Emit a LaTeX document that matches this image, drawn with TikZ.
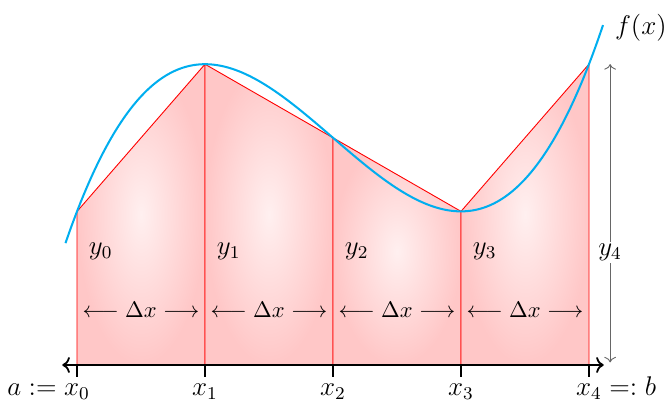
\documentclass[tikz,border=0pt]{standalone}
\usepackage{amsmath,amssymb}
\usepackage{xcolor}
\usepackage{tikz}
\usetikzlibrary{arrows.meta,positioning,calc}

\definecolor{curvecyan}{RGB}{0,174,239}

\begin{document}
\begin{tikzpicture}[
    declare function={f(\x)=0.0719*(\x-4)^3-0.8625*(\x-4)+3.55;},
    trap/.style={draw=red, inner color=red!6, outer color=red!22},
    axis/.style={<->, thick},
    tick/.style={thick},
    xlab/.style={anchor=base, inner sep=0pt, font=\large},
    curve/.style={curvecyan, line width=0.9pt},
    ylab/.style={anchor=base west, inner sep=0pt, font=\large},
    dxlab/.style={inner sep=0pt},
    height/.style={<->, black!60},
]
    \useasboundingbox (-1.203,-0.578) rectangle (9.203,5.703);

    % grid points on the axis and on the curve
    \coordinate (b0) at (0,0);
    \coordinate (b1) at (2,0);
    \coordinate (b2) at (4,0);
    \coordinate (b3) at (6,0);
    \coordinate (b4) at (8,0);
    \coordinate (t0) at (0,{f(0)});
    \coordinate (t1) at (2,{f(2)});
    \coordinate (t2) at (4,{f(4)});
    \coordinate (t3) at (6,{f(6)});
    \coordinate (t4) at (8,{f(8)});

    % trapezoids
    \draw[trap] (b0) -- (t0) -- (t1) -- (b1) -- cycle;
    \draw[trap] (b1) -- (t1) -- (t2) -- (b2) -- cycle;
    \draw[trap] (b2) -- (t2) -- (t3) -- (b3) -- cycle;
    \draw[trap] (b3) -- (t3) -- (t4) -- (b4) -- cycle;

    % the function
    \draw[curve] plot[domain=-0.18:8.22, samples=100, smooth] (\x,{f(\x)});
    \node[ylab] (fx) at (8.4,5.16) {$f(x)$};

    % axis and ticks
    \coordinate (left) at (-0.23,0);
    \coordinate (right) at (8.23,0);
    \draw[axis] (left) -- (right);
    \draw[tick] (b0) -- ++(0,-0.19);
    \draw[tick] (b1) -- ++(0,-0.19);
    \draw[tick] (b2) -- ++(0,-0.19);
    \draw[tick] (b3) -- ++(0,-0.19);
    \draw[tick] (b4) -- ++(0,-0.19);
    \node[xlab] (x0) at (0,-0.48) {$\llap{$a:={}$}x_0$};
    \node[xlab] (x1) at (2,-0.48) {$x_1$};
    \node[xlab] (x2) at (4,-0.48) {$x_2$};
    \node[xlab] (x3) at (6,-0.48) {$x_3$};
    \node[xlab] (x4) at (8,-0.48) {$x_4\rlap{${}=:b$}$};

    % heights
    \node[ylab] (y0) at (0.18,1.72) {$y_0$};
    \node[ylab] (y1) at (2.18,1.72) {$y_1$};
    \node[ylab] (y2) at (4.18,1.72) {$y_2$};
    \node[ylab] (y3) at (6.18,1.72) {$y_3$};
    \coordinate (htop) at (8.33,{f(8)});
    \coordinate (hbot) at (8.33,0.04);
    \draw[height] (htop) -- (hbot);
    \node[fill=white, inner sep=1pt, font=\large] (y4) at (8.33,1.76) {$y_4$};

    % step widths
    \node[dxlab] (dx1) at (1,0.86) {$\longleftarrow\Delta x\longrightarrow$};
    \node[dxlab] (dx2) at (3,0.86) {$\longleftarrow\Delta x\longrightarrow$};
    \node[dxlab] (dx3) at (5,0.86) {$\longleftarrow\Delta x\longrightarrow$};
    \node[dxlab] (dx4) at (7,0.86) {$\longleftarrow\Delta x\longrightarrow$};
\end{tikzpicture}
\end{document}
